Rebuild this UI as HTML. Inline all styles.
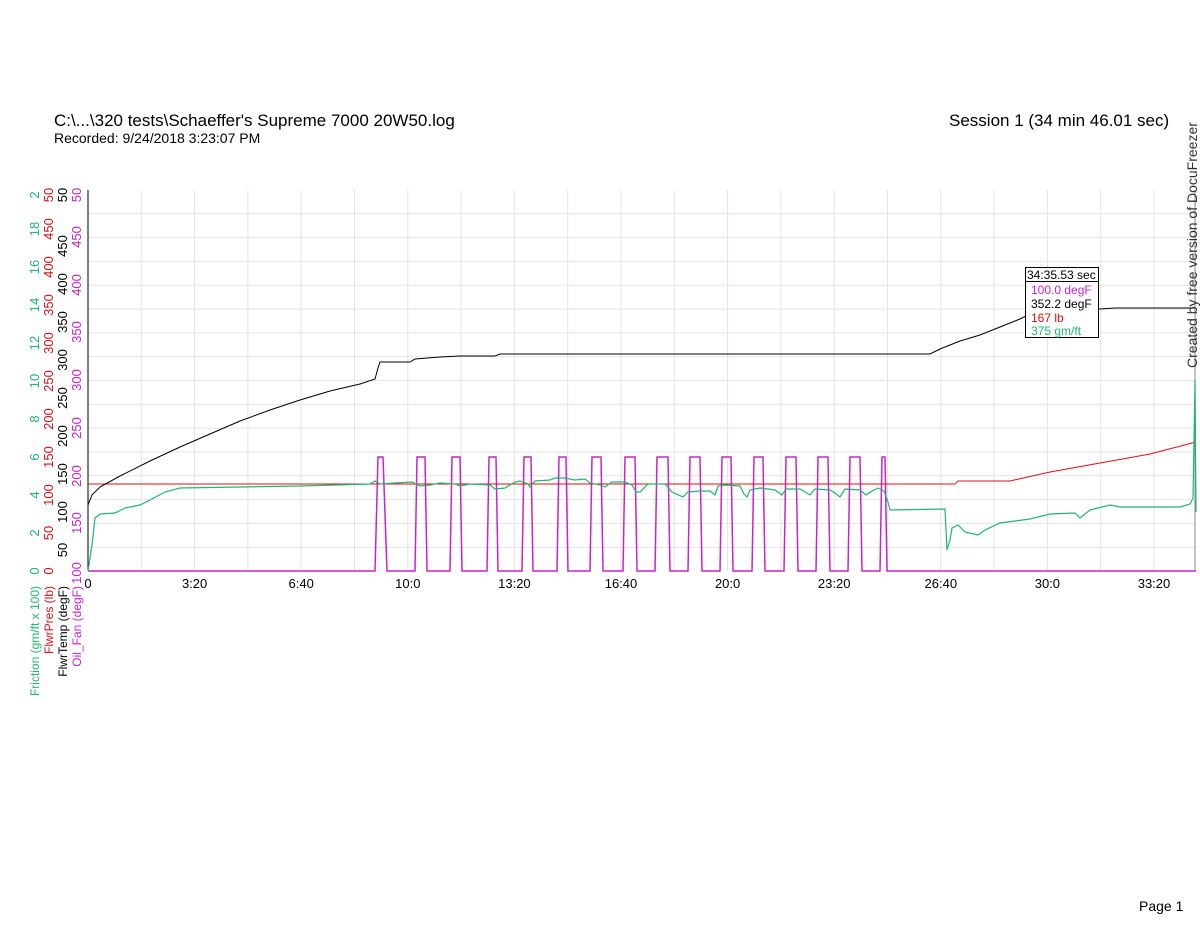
<!DOCTYPE html>
<html><head><style>
body{margin:0;background:#fff;width:1200px;height:927px;overflow:hidden;font-family:"Liberation Sans",sans-serif}
</style></head><body>
<svg width="1200" height="927" xmlns="http://www.w3.org/2000/svg" font-family="Liberation Sans, sans-serif">
<text x="54" y="126" font-size="17">C:\...\320 tests\Schaeffer's Supreme 7000 20W50.log</text>
<text x="54" y="143" font-size="14">Recorded: 9/24/2018 3:23:07 PM</text>
<text x="949" y="126" font-size="17">Session 1 (34 min 46.01 sec)</text>
<text x="1139" y="911" font-size="14">Page 1</text>
<g stroke="#e4e4e4" stroke-width="1">
<line x1="141.3" y1="190" x2="141.3" y2="571"/><line x1="194.6" y1="190" x2="194.6" y2="571"/><line x1="247.9" y1="190" x2="247.9" y2="571"/><line x1="301.2" y1="190" x2="301.2" y2="571"/><line x1="354.5" y1="190" x2="354.5" y2="571"/><line x1="407.8" y1="190" x2="407.8" y2="571"/><line x1="461.1" y1="190" x2="461.1" y2="571"/><line x1="514.4" y1="190" x2="514.4" y2="571"/><line x1="567.7" y1="190" x2="567.7" y2="571"/><line x1="621" y1="190" x2="621" y2="571"/><line x1="674.3" y1="190" x2="674.3" y2="571"/><line x1="727.6" y1="190" x2="727.6" y2="571"/><line x1="780.9" y1="190" x2="780.9" y2="571"/><line x1="834.2" y1="190" x2="834.2" y2="571"/><line x1="887.5" y1="190" x2="887.5" y2="571"/><line x1="940.8" y1="190" x2="940.8" y2="571"/><line x1="994.1" y1="190" x2="994.1" y2="571"/><line x1="1047.4" y1="190" x2="1047.4" y2="571"/><line x1="1100.7" y1="190" x2="1100.7" y2="571"/><line x1="1154" y1="190" x2="1154" y2="571"/>
<line x1="88" y1="213.8" x2="1196" y2="213.8"/><line x1="88" y1="237.6" x2="1196" y2="237.6"/><line x1="88" y1="261.4" x2="1196" y2="261.4"/><line x1="88" y1="285.3" x2="1196" y2="285.3"/><line x1="88" y1="309.1" x2="1196" y2="309.1"/><line x1="88" y1="332.9" x2="1196" y2="332.9"/><line x1="88" y1="356.7" x2="1196" y2="356.7"/><line x1="88" y1="380.5" x2="1196" y2="380.5"/><line x1="88" y1="404.3" x2="1196" y2="404.3"/><line x1="88" y1="428.1" x2="1196" y2="428.1"/><line x1="88" y1="452" x2="1196" y2="452"/><line x1="88" y1="475.8" x2="1196" y2="475.8"/><line x1="88" y1="499.6" x2="1196" y2="499.6"/><line x1="88" y1="523.4" x2="1196" y2="523.4"/><line x1="88" y1="547.2" x2="1196" y2="547.2"/>
</g>
<line x1="88" y1="190" x2="88" y2="571" stroke="#000"/>
<line x1="1195" y1="190" x2="1195" y2="571" stroke="#888"/>
<g font-size="13" text-anchor="middle">
<text x="88" y="588">0</text><text x="194.6" y="588">3:20</text><text x="301.2" y="588">6:40</text><text x="407.8" y="588">10:0</text><text x="514.4" y="588">13:20</text><text x="621" y="588">16:40</text><text x="727.6" y="588">20:0</text><text x="834.2" y="588">23:20</text><text x="940.8" y="588">26:40</text><text x="1047.4" y="588">30:0</text><text x="1154" y="588">33:20</text>
</g>
<g font-size="13" text-anchor="middle">
<g fill="#22b573">
<text transform="translate(39,571) rotate(-90)">0</text><text transform="translate(39,533) rotate(-90)">2</text><text transform="translate(39,495) rotate(-90)">4</text><text transform="translate(39,457) rotate(-90)">6</text><text transform="translate(39,419) rotate(-90)">8</text><text transform="translate(39,381) rotate(-90)">10</text><text transform="translate(39,343) rotate(-90)">12</text><text transform="translate(39,305) rotate(-90)">14</text><text transform="translate(39,267) rotate(-90)">16</text><text transform="translate(39,229) rotate(-90)">18</text><text transform="translate(39,195) rotate(-90)">2</text>
</g>
<g fill="#e01010">
<text transform="translate(53,571) rotate(-90)">0</text><text transform="translate(53,533) rotate(-90)">50</text><text transform="translate(53,495) rotate(-90)">100</text><text transform="translate(53,457) rotate(-90)">150</text><text transform="translate(53,419) rotate(-90)">200</text><text transform="translate(53,381) rotate(-90)">250</text><text transform="translate(53,343) rotate(-90)">300</text><text transform="translate(53,305) rotate(-90)">350</text><text transform="translate(53,267) rotate(-90)">400</text><text transform="translate(53,229) rotate(-90)">450</text><text transform="translate(53,195) rotate(-90)">50</text>
</g>
<g fill="#000">
<text transform="translate(67,550) rotate(-90)">50</text><text transform="translate(67,512) rotate(-90)">100</text><text transform="translate(67,474) rotate(-90)">150</text><text transform="translate(67,436) rotate(-90)">200</text><text transform="translate(67,398) rotate(-90)">250</text><text transform="translate(67,360) rotate(-90)">300</text><text transform="translate(67,322) rotate(-90)">350</text><text transform="translate(67,284) rotate(-90)">400</text><text transform="translate(67,246) rotate(-90)">450</text><text transform="translate(67,195) rotate(-90)">50</text>
</g>
<g fill="#cc22cc">
<text transform="translate(81,573) rotate(-90)">100</text><text transform="translate(81,523) rotate(-90)">150</text><text transform="translate(81,476) rotate(-90)">200</text><text transform="translate(81,428) rotate(-90)">250</text><text transform="translate(81,380) rotate(-90)">300</text><text transform="translate(81,332) rotate(-90)">350</text><text transform="translate(81,285) rotate(-90)">400</text><text transform="translate(81,237) rotate(-90)">450</text><text transform="translate(81,195) rotate(-90)">50</text>
</g>
</g>
<g font-size="12" text-anchor="end">
<text transform="translate(39,586) rotate(-90)" fill="#22b573">Friction (gm/ft x 100)</text>
<text transform="translate(53,586) rotate(-90)" fill="#e01010">FlwrPres (lb)</text>
<text transform="translate(67,586) rotate(-90)" fill="#000">FlwrTemp (degF)</text>
<text transform="translate(81,586) rotate(-90)" fill="#cc22cc">Oil_Fan (degF)</text>
</g>
<polyline fill="none" stroke="#cc22cc" stroke-width="1.5" points="88,571 375,571 378,457 383,457 387,571 415,571 417,457 425,457 427,571 450,571 452,457 460,457 462,571 487,571 489,457 496,457 498,571 522,571 524,457 531,457 533,571 557,571 559,457 566,457 568,571 590,571 592,457 601,457 603,571 623,571 625,457 635,457 637,571 655,571 657,457 668,457 670,571 688,571 690,457 700,457 702,571 720,571 722,457 731,457 733,571 752,571 754,457 763,457 765,571 784,571 786,457 796,457 798,571 816,571 818,457 828,457 830,571 848,571 850,457 860,457 862,571 880,571 882,457 885,457 887,571 1196,571"/>
<polyline fill="none" stroke="#e01010" stroke-width="1" points="88,484 955,484 958,481 1010,481 1050,472 1100,463 1150,454 1196,442"/>
<polyline fill="none" stroke="#22b573" stroke-width="1.2" points="88,571 92,545 95,518 100,514 115,513 125,508 140,505 150,500 165,492 180,488 300,486 370,484 375,481 380,484 395,483 412,482 420,486 430,485 440,483 455,484 460,486 470,484 490,485 495,489 505,488 510,485 515,482 520,481 528,484 530,487 535,481 550,480 555,478 565,478 575,480 585,479 590,483 600,485 605,487 612,482 625,482 632,485 636,492 640,492 648,484 665,484 672,492 683,497 688,492 700,491 710,491 715,495 718,486 725,485 740,486 744,494 747,497 750,490 760,488 775,490 782,495 786,489 800,489 805,492 810,495 815,489 830,490 835,493 840,497 845,489 860,490 866,495 872,491 878,488 884,491 888,502 890,510 945,509 947,550 950,540 952,528 958,525 965,532 978,535 985,530 1000,523 1030,519 1050,514 1075,513 1080,518 1090,510 1110,505 1120,507 1160,507 1180,507 1190,504 1193,498 1194,440 1195,380 1196,512"/>
<polyline fill="none" stroke="#000" stroke-width="1" points="88,505 92,495 100,487 120,476 150,461 180,447 210,434 240,421 270,410 300,400 330,391 360,384 375,379 378,368 380,362 410,362 415,359 440,357 460,356 495,356 500,354 930,354 940,349 960,341 980,335 1000,327 1020,319 1030,314 1060,311 1080,310 1100,309 1115,308 1150,308 1160,308 1196,308"/>
<g>
<rect x="1025.5" y="267.5" width="73" height="70" fill="#fff" stroke="#000"/>
<line x1="1025.5" y1="281.5" x2="1098.5" y2="281.5" stroke="#000"/>
<g font-size="12">
<text x="1027" y="279" fill="#000">34:35.53 sec</text>
<text x="1031" y="294" fill="#cc22cc">100.0 degF</text>
<text x="1031" y="308" fill="#000">352.2 degF</text>
<text x="1031" y="322" fill="#e01010">167 lb</text>
<text x="1031" y="335" fill="#22b573">375 gm/ft</text>
</g>
</g>
<text transform="translate(1197,368) rotate(-90)" font-size="14" fill="#333">Created by free version of DocuFreezer</text>
</svg>
</body></html>
